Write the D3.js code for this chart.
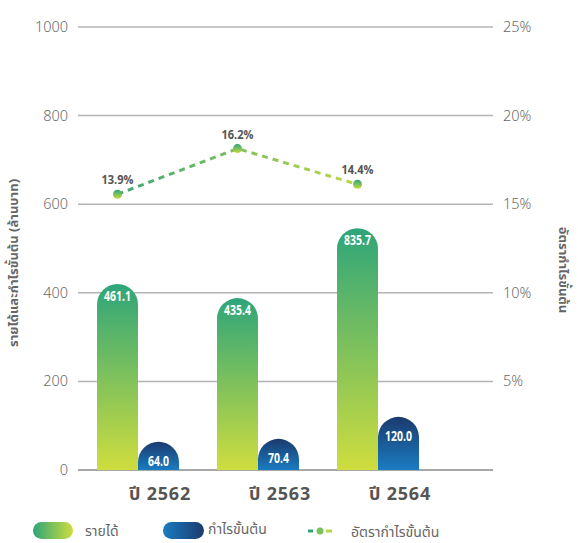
<!DOCTYPE html>
<html><head><meta charset="utf-8">
<script src="https://cdn.jsdelivr.net/npm/d3@7/dist/d3.min.js"></script>
<style>
body{margin:0;background:#fff;}
svg{display:block;font-family:"Noto Sans Thai","Noto Sans","DejaVu Sans",sans-serif;}
</style></head><body>
<svg id="c" width="578" height="543"></svg>
<script>
const categories = ["ปี 2562","ปี 2563","ปี 2564"];
const revenue = [461.1, 435.4, 835.7];          // labelled values
const revenueDrawn = [420, 388, 546];           // bar heights as read against the left axis
const profit = [64.0, 70.4, 120.0];
const margin = [13.9, 16.2, 14.4];
const leftTicks = [0,200,400,600,800,1000];
const rightTicks = [5,10,15,20,25];

const svg = d3.select("#c");
const x0 = 78, x1 = 493, yTop = 27, yBot = 470;
const y = d3.scaleLinear().domain([0,1000]).range([yBot,yTop]);
const yR = d3.scaleLinear().domain([0,25]).range([yBot,yTop]);
const yLine = d3.scaleLinear().domain([0,22.33]).range([yBot,yTop]);
const band = d3.scaleBand().domain(categories).range([78,438]).paddingInner(0).paddingOuter(0);
const sub = d3.scaleBand().domain(["rev","pro"]).range([-41,41]);
const bw = sub.bandwidth();

const defs = svg.append("defs");
function grad(id, x2, y2, c0, c1){
  const g = defs.append("linearGradient").attr("id",id).attr("x1",0).attr("y1",0).attr("x2",x2).attr("y2",y2);
  g.append("stop").attr("offset","0%").attr("stop-color",c0);
  g.append("stop").attr("offset","100%").attr("stop-color",c1);
  return g;
}
grad("gRev",0,1,"#2ea57a","#cfdd3e");
grad("gPro",0,1,"#1b3a6e","#1a7cc1");
grad("gRevH",1,0,"#2ea57a","#cfdd3e");
grad("gProH",1,0,"#1a7cc1","#1b3a6e");
grad("gDot",0,1,"#2ea57a","#c8da3e");
const g5 = defs.append("linearGradient").attr("id","gLine").attr("gradientUnits","userSpaceOnUse")
  .attr("x1",band(categories[0])+band.bandwidth()/2+sub("rev")).attr("y1",0)
  .attr("x2",band(categories[2])+band.bandwidth()/2+sub("rev")+bw).attr("y2",0);
g5.append("stop").attr("offset","0%").attr("stop-color","#33a475");
g5.append("stop").attr("offset","100%").attr("stop-color","#cadb45");

// gridlines
svg.append("g").selectAll("line").data(leftTicks).join("line")
  .attr("x1",x0).attr("x2",x1).attr("y1",d=>y(d)).attr("y2",d=>y(d))
  .attr("stroke",d=>d===0?"#a8a8a8":"#b4b4b4").attr("stroke-width",d=>d===0?2:1.5);

// left tick labels
svg.append("g").selectAll("text").data(leftTicks).join("text")
  .attr("x",68).attr("y",d=>y(d)).attr("dy","0.35em").attr("text-anchor","end")
  .attr("fill","#6a6a6a").attr("font-size",14.5).attr("font-weight",300).text(d=>d);
// right tick labels
svg.append("g").selectAll("text").data(rightTicks).join("text")
  .attr("x",503).attr("y",d=>yR(d)).attr("dy","0.35em").attr("text-anchor","start")
  .attr("fill","#6a6a6a").attr("font-size",14.5).attr("font-weight",300).text(d=>d+"%");

function roundTop(x, w, yt, yb){
  const r = w/2;
  const top = Math.min(yt, yb - r);
  return `M${x},${yb} L${x},${top+r} A${r},${r} 0 0 1 ${x+w},${top+r} L${x+w},${yb} Z`;
}

const groups = svg.append("g").selectAll("g").data(categories).join("g")
  .attr("transform",d=>`translate(${band(d)+band.bandwidth()/2},0)`);
groups.append("path").attr("fill","url(#gRev)")
  .attr("d",(d,i)=>roundTop(sub("rev"), bw, y(revenueDrawn[i]), y(0)));
groups.append("path").attr("fill","url(#gPro)")
  .attr("d",(d,i)=>roundTop(sub("pro"), bw, y(profit[i]), y(0)));
groups.append("text")
  .attr("transform",(d,i)=>`translate(${sub("rev")+bw/2},${y(revenueDrawn[i])+17}) scale(0.78,1)`)
  .attr("text-anchor","middle").attr("fill","#fff").attr("font-size",13.5).attr("font-weight",700)
  .text((d,i)=>revenue[i].toFixed(1));
groups.append("text")
  .attr("transform",(d,i)=>`translate(${sub("pro")+bw/2},${y(profit[i])+24}) scale(0.78,1)`)
  .attr("text-anchor","middle").attr("fill","#fff").attr("font-size",13.5).attr("font-weight",700)
  .text((d,i)=>profit[i].toFixed(1));

// category labels
svg.append("g").selectAll("text").data(categories).join("text")
  .attr("x",d=>band(d)+band.bandwidth()/2+22).attr("y",500).attr("text-anchor","middle")
  .attr("fill","#555").attr("font-size",18).attr("font-weight",700).attr("letter-spacing",0.8).text(d=>d);

// line
const px = (i)=>band(categories[i])+band.bandwidth()/2+sub("rev")+bw/2;
const line = d3.line().x((d,i)=>px(i)).y(d=>yLine(d));
svg.append("path").datum(margin).attr("d",line).attr("fill","none")
  .attr("stroke","url(#gLine)").attr("stroke-width",3).attr("stroke-dasharray","6,5");
svg.append("g").selectAll("circle").data(margin).join("circle")
  .attr("cx",(d,i)=>px(i)).attr("cy",d=>yLine(d)).attr("r",4.5).attr("fill","url(#gDot)");
svg.append("g").selectAll("text").data(margin).join("text")
  .attr("transform",(d,i)=>`translate(${px(i)},${yLine(d)-10}) scale(0.85,1)`).attr("text-anchor","middle")
  .attr("fill","#555").attr("font-size",13).attr("font-weight",700).text(d=>d.toFixed(1)+"%");

// axis titles
svg.append("text").attr("transform","translate(18,263) rotate(-90)").attr("text-anchor","middle")
  .attr("fill","#666").attr("font-size",13).attr("font-weight",700).text("รายได้และกำไรขั้นต้น (ล้านบาท)");
svg.append("text").attr("transform","translate(559,270) rotate(90)").attr("text-anchor","middle")
  .attr("fill","#666").attr("font-size",13).attr("font-weight",700).text("อัตรากำไรขั้นต้น");

// legend
const lg = svg.append("g");
lg.append("rect").attr("x",33).attr("y",522).attr("width",40).attr("height",17).attr("rx",8.5).attr("fill","url(#gRevH)");
lg.append("text").attr("x",85).attr("y",536).attr("fill","#666").attr("font-size",14).text("รายได้");
lg.append("rect").attr("x",163).attr("y",522).attr("width",41).attr("height",17).attr("rx",8.5).attr("fill","url(#gProH)");
lg.append("text").attr("x",208).attr("y",534).attr("fill","#666").attr("font-size",14).text("กำไรขั้นต้น");
lg.append("line").attr("x1",308).attr("x2",313).attr("y1",531).attr("y2",531).attr("stroke","#33a475").attr("stroke-width",3);
lg.append("line").attr("x1",326).attr("x2",332).attr("y1",531).attr("y2",531).attr("stroke","#b9d44a").attr("stroke-width",3);
lg.append("circle").attr("cx",320).attr("cy",531).attr("r",3.5).attr("fill","#7cc05a");
lg.append("text").attr("x",351).attr("y",537).attr("fill","#666").attr("font-size",14).text("อัตรากำไรขั้นต้น");
</script>
</body></html>
